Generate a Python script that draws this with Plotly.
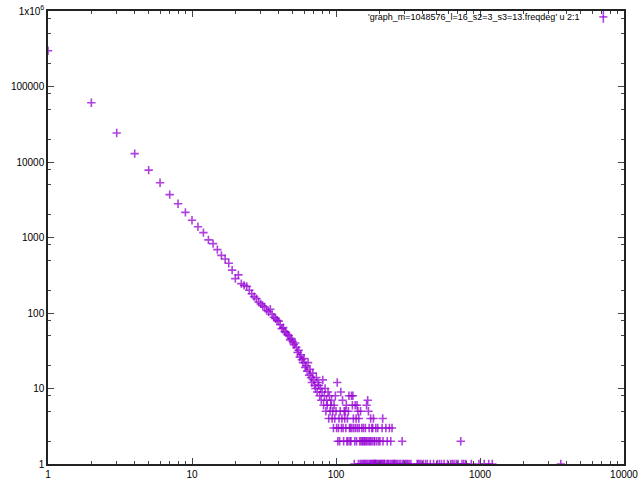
import plotly.graph_objects as go

# degree -> frequency (column 2 on x, column 1 on y)
head_deg = list(range(1, 113))
head_cnt = [298000, 61000, 24200, 12900, 7800, 5300, 3700, 2800, 2150, 1690,
            1390, 1160, 930, 830, 690, 580, 520, 455, 370, 285,
            320, 245, 232, 225, 200, 180, 165, 155, 140, 132,
            125, 120, 108, 104, 112, 96, 88, 84, 80, 78,
            70, 62, 64, 57, 55, 52, 50, 44, 46, 42,
            38, 40, 35, 30, 32, 26, 28, 24, 22, 25,
            19, 20, 17, 22, 15, 18, 14, 12, 16, 13,
            11, 10, 14, 9, 12, 11, 8, 10, 7, 9,
            13, 6, 8, 10, 5, 7, 6, 9, 4, 8,
            5, 6, 7, 4, 5, 3, 6, 4, 8, 5,
            3, 12, 2, 3, 4, 2, 5, 9, 3, 4,
            7, 3]

tail_deg = [113, 114, 115, 116, 117, 118, 119, 120, 121, 122,
            123, 124, 125, 126, 127, 128, 129, 130, 131, 132,
            133, 134, 135, 136, 137, 138, 139, 140, 141, 142,
            143, 144, 145, 146, 147, 148, 149, 150, 151, 152,
            153, 154, 155, 156, 157, 158, 159, 160, 161, 162,
            163, 164, 165, 166, 167, 168, 169, 170, 171, 172,
            173, 174, 175, 176, 177, 178, 179, 180, 181, 182,
            183, 184, 185, 186, 187, 188, 189, 190, 192, 193,
            195, 196, 198, 199, 202, 203, 205, 207, 209, 210,
            211, 212, 214, 216, 218, 222, 224, 227, 229, 231,
            235, 237, 240, 242, 245, 248, 251, 254, 258, 263,
            268, 275, 282, 288, 291, 296, 303, 309, 315, 322,
            331, 366, 372, 381, 390, 403, 418, 430, 452, 476,
            505, 522, 540, 563, 595, 625, 642, 660, 683, 704,
            735, 750, 772, 797, 870, 983, 1070, 1150, 1217, 3640]
tail_cnt = [2, 5, 4, 5, 3, 6, 2, 4, 2, 5,
            8, 3, 2, 3, 2, 8, 3, 6, 8, 4,
            3, 1, 2, 6, 3, 4, 2, 6, 3, 5,
            1, 4, 3, 2, 1, 5, 2, 1, 3, 2,
            1, 2, 3, 1, 2, 1, 2, 3, 1, 2,
            6, 1, 2, 7, 1, 5, 2, 3, 1, 2,
            1, 4, 2, 1, 3, 1, 2, 3, 1, 4,
            1, 2, 1, 2, 1, 1, 3, 1, 2, 1,
            3, 1, 2, 1, 2, 1, 1, 1, 3, 1,
            4, 2, 1, 1, 1, 3, 1, 2, 1, 1,
            3, 1, 2, 1, 3, 1, 1, 1, 1, 1,
            1, 1, 1, 2, 1, 1, 1, 1, 1, 1,
            1, 1, 1, 1, 1, 1, 1, 1, 1, 1,
            1, 1, 1, 1, 1, 1, 1, 1, 1, 1,
            2, 1, 1, 1, 1, 1, 1, 1, 1, 1]

y_ticks = [1, 10, 100, 1000, 10000, 100000, 1000000]
y_labels = ["1", "10", "100", "1000", "10000", "100000", "1x10<sup>6</sup>"]
x_ticks = [1, 10, 100, 1000, 10000]
x_labels = ["1", "10", "100", "1000", "10000"]

legend_text = "'graph_m=1048576_l=16_s2=3_s3=13.freqdeg' u 2:1"
purple = "rgba(148,0,211,0.75)"

fig = go.Figure()
fig.add_trace(go.Scatter(
    x=head_deg + tail_deg, y=head_cnt + tail_cnt, mode="markers",
    marker=dict(symbol="cross-thin", size=6, color=purple,
                line=dict(color=purple, width=1.6)),
    showlegend=False))

y_minor = [m * 10 ** k for k in range(6) for m in (2, 5, 8)]
x_minor = [m * 10 ** k for k in range(4) for m in range(2, 10)]

axis_style = dict(type="log", showgrid=False, zeroline=False, showline=True,
                  linecolor="#222", linewidth=1.5, mirror="allticks",
                  ticks="inside", ticklen=6, tickcolor="#444", tickwidth=1.2,
                  automargin=False, ticklabeloverflow="allow",
                  tickfont=dict(family="Liberation Sans", size=10, color="black"))

fig.update_xaxes(range=[0, 4], tickvals=x_ticks, ticktext=x_labels,
                 minor=dict(tickvals=x_minor, ticks="inside", ticklen=3,
                            tickcolor="#444", tickwidth=1.2),
                 **axis_style)
fig.update_yaxes(range=[0, 6], tickvals=y_ticks, ticktext=y_labels,
                 minor=dict(tickvals=y_minor, ticks="inside", ticklen=3,
                            tickcolor="#444", tickwidth=1.2),
                 **axis_style)

# key in the top right corner, gnuplot style (text then symbol)
fig.add_annotation(x=0.927, y=0.987, xref="paper", yref="paper",
                   text=legend_text, showarrow=False, xanchor="right",
                   yanchor="middle",
                   font=dict(family="Liberation Sans", size=9, color="black"))
fig.add_shape(type="line", xref="paper", yref="paper",
              x0=0.9571, x1=0.9711, y0=0.987, y1=0.987,
              line=dict(color=purple, width=1.6))
fig.add_shape(type="line", xref="paper", yref="paper",
              x0=0.9641, x1=0.9641, y0=0.974, y1=1.0,
              line=dict(color=purple, width=1.6))

fig.update_layout(width=640, height=480, plot_bgcolor="white",
                  paper_bgcolor="white",
                  margin=dict(l=48, r=16, t=11, b=16))

# drop the browser's default body margin so the figure sits at 0,0
fig.write_html("out.html", config={"displayModeBar": False},
               post_script="document.body.style.margin='0';")
